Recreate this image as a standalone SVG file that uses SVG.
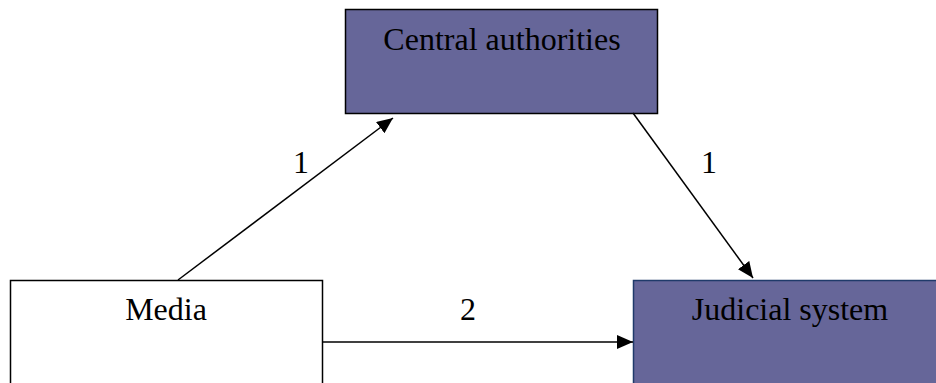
<svg xmlns="http://www.w3.org/2000/svg" width="936" height="383" viewBox="0 0 936 383">
<style>
text{font-family:"Liberation Serif","Times New Roman",serif;font-size:32px;fill:#000;text-anchor:middle}
.box{stroke-width:1.5}
.conn{stroke:#000;stroke-width:1.5;fill:none;marker-end:url(#ah)}
</style>
<defs>
<marker id="ah" markerUnits="userSpaceOnUse" markerWidth="18" markerHeight="14" refX="16" refY="7" orient="auto">
<path d="M0,0 L16,7 L0,14 Z" fill="#000"/>
</marker>
</defs>
<rect width="936" height="383" fill="#fff"/>
<g id="central">
<rect class="box" x="345.5" y="9.5" width="312" height="104" fill="#666699" stroke="#000"/>
<text x="502" y="50">Central authorities</text>
</g>
<g id="media">
<rect class="box" x="10.5" y="280.5" width="312" height="110" fill="#fff" stroke="#000"/>
<text x="166" y="320">Media</text>
</g>
<g id="judicial">
<rect class="box" x="633.5" y="280.5" width="320" height="110" fill="#666699" stroke="#1f3a6a"/>
<text x="790" y="320">Judicial system</text>
</g>
<g id="connectors">
<line class="conn" x1="178" y1="280" x2="393" y2="118"/>
<line class="conn" x1="633" y1="113" x2="753" y2="278"/>
<line class="conn" x1="322" y1="342" x2="633" y2="342"/>
<text x="301" y="173">1</text>
<text x="709" y="173">1</text>
<text x="468" y="320">2</text>
</g>
</svg>
